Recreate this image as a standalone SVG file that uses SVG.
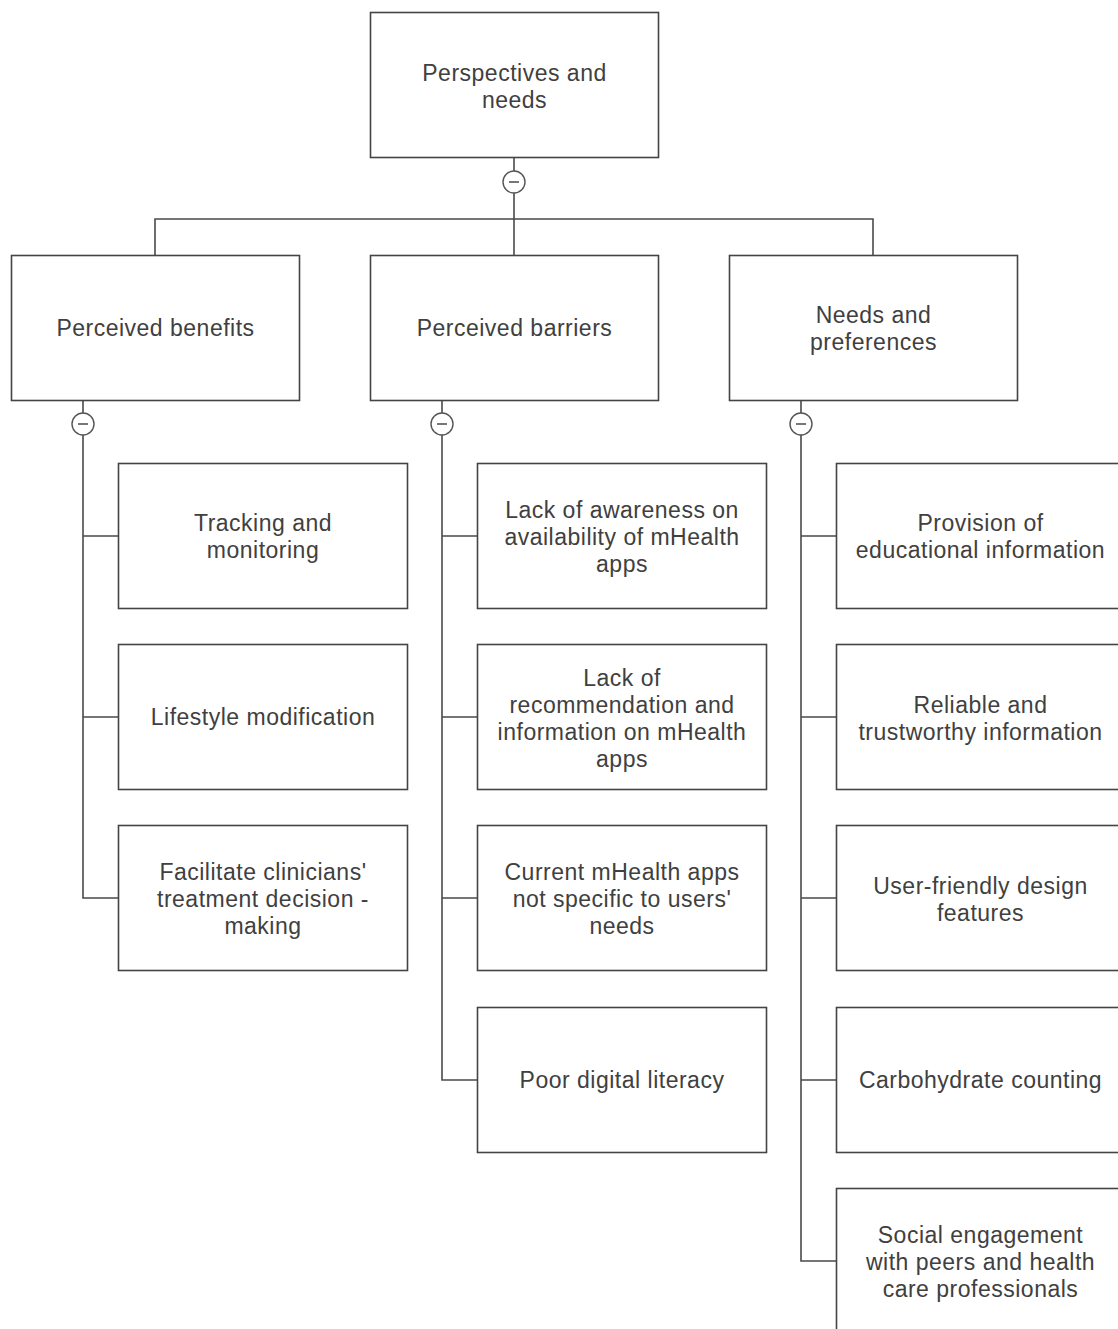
<svg xmlns="http://www.w3.org/2000/svg" width="1118" height="1329" viewBox="0 0 1118 1329">
<style>
.box{fill:#fff;stroke:#444;stroke-width:1.6}
.t{font-family:"Liberation Sans",Arial,sans-serif;font-size:23px;letter-spacing:0.5px;fill:#404040;text-anchor:middle;dominant-baseline:central}
.c{fill:none;stroke:#4a4a4a;stroke-width:1.6}
.toggle{fill:#fff;stroke:#555;stroke-width:1.4}
.minus{stroke:#555;stroke-width:1.6}
</style>
<rect width="1118" height="1329" fill="#fff"/>
<g id="connectors">
<path class="c" d="M514 158V219M155 255V219H873V255M514 219V255"/>
<path class="c" d="M83 400V898H118M83 536H118M83 717H118"/>
<path class="c" d="M442 400V1080H477M442 536H477M442 717H477M442 898H477"/>
<path class="c" d="M801 400V1261H836M801 536H836M801 717H836M801 898H836M801 1080H836"/>
<g id="toggles">
<circle class="toggle" cx="514" cy="182" r="11"/><line class="minus" x1="509" y1="182" x2="519" y2="182"/>
<circle class="toggle" cx="83" cy="424" r="11"/><line class="minus" x1="78" y1="424" x2="88" y2="424"/>
<circle class="toggle" cx="442" cy="424" r="11"/><line class="minus" x1="437" y1="424" x2="447" y2="424"/>
<circle class="toggle" cx="801" cy="424" r="11"/><line class="minus" x1="796" y1="424" x2="806" y2="424"/>
</g>
</g>
<g id="root"><rect class="box" x="370.5" y="12.5" width="288" height="145"/><text class="t" x="514.5" y="73">Perspectives and</text><text class="t" x="514.5" y="100">needs</text></g>
<g id="benefits"><rect class="box" x="11.5" y="255.5" width="288" height="145"/><text class="t" x="155.5" y="328">Perceived benefits</text></g>
<g id="barriers"><rect class="box" x="370.5" y="255.5" width="288" height="145"/><text class="t" x="514.5" y="328">Perceived barriers</text></g>
<g id="needs"><rect class="box" x="729.5" y="255.5" width="288" height="145"/><text class="t" x="873.5" y="315">Needs and</text><text class="t" x="873.5" y="342">preferences</text></g>
<g id="b1"><rect class="box" x="118.5" y="463.5" width="289" height="145"/><text class="t" x="263" y="523">Tracking and</text><text class="t" x="263" y="550">monitoring</text></g>
<g id="b2"><rect class="box" x="118.5" y="644.5" width="289" height="145"/><text class="t" x="263" y="717">Lifestyle modification</text></g>
<g id="b3"><rect class="box" x="118.5" y="825.5" width="289" height="145"/><text class="t" x="263" y="872">Facilitate clinicians'</text><text class="t" x="263" y="899">treatment decision -</text><text class="t" x="263" y="926">making</text></g>
<g id="r1"><rect class="box" x="477.5" y="463.5" width="289" height="145"/><text class="t" x="622" y="510">Lack of awareness on</text><text class="t" x="622" y="537">availability of mHealth</text><text class="t" x="622" y="564">apps</text></g>
<g id="r2"><rect class="box" x="477.5" y="644.5" width="289" height="145"/><text class="t" x="622" y="678">Lack of</text><text class="t" x="622" y="705">recommendation and</text><text class="t" x="622" y="732">information on mHealth</text><text class="t" x="622" y="759">apps</text></g>
<g id="r3"><rect class="box" x="477.5" y="825.5" width="289" height="145"/><text class="t" x="622" y="872">Current mHealth apps</text><text class="t" x="622" y="899">not specific to users'</text><text class="t" x="622" y="926">needs</text></g>
<g id="r4"><rect class="box" x="477.5" y="1007.5" width="289" height="145"/><text class="t" x="622" y="1080">Poor digital literacy</text></g>
<g id="n1"><rect class="box" x="836.5" y="463.5" width="289" height="145"/><text class="t" x="980.5" y="523">Provision of</text><text class="t" x="980.5" y="550">educational information</text></g>
<g id="n2"><rect class="box" x="836.5" y="644.5" width="289" height="145"/><text class="t" x="980.5" y="705">Reliable and</text><text class="t" x="980.5" y="732">trustworthy information</text></g>
<g id="n3"><rect class="box" x="836.5" y="825.5" width="289" height="145"/><text class="t" x="980.5" y="886">User-friendly design</text><text class="t" x="980.5" y="913">features</text></g>
<g id="n4"><rect class="box" x="836.5" y="1007.5" width="289" height="145"/><text class="t" x="980.5" y="1080">Carbohydrate counting</text></g>
<g id="n5"><rect class="box" x="836.5" y="1188.5" width="289" height="145"/><text class="t" x="980.5" y="1235">Social engagement</text><text class="t" x="980.5" y="1262">with peers and health</text><text class="t" x="980.5" y="1289">care professionals</text></g>
</svg>
